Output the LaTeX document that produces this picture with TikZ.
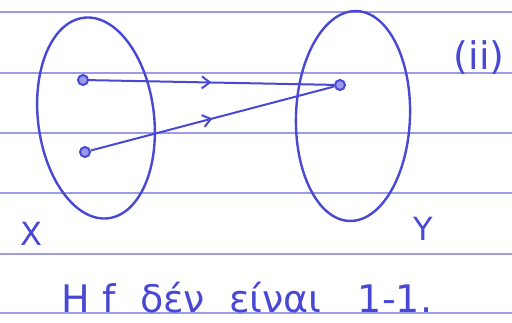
\documentclass[tikz,border=0pt]{standalone}
\usepackage{fontspec}
\setmainfont{DejaVu Sans}
\usetikzlibrary{arrows.meta, positioning, shapes.geometric, decorations.markings}
\definecolor{colInk}{RGB}{72,72,212}
\definecolor{colRule}{RGB}{155,155,232}

\begin{document}
\begin{tikzpicture}[
  x=1pt, y=-1pt,
  rule/.style={colRule, line width=1.2pt},
  set/.style={ellipse, draw=colInk, line width=2.4pt, inner sep=0pt},
  elem/.style={circle, draw=colInk, fill=colInk!55, line width=2pt,
               inner sep=0pt, minimum size=10pt},
  maparr/.style={colInk, line width=2pt, postaction={decorate},
                 decoration={markings, mark=at position 0.5 with
                   {\arrow{Straight Barb[length=8pt, width=12pt, line width=2pt]}}}},
  hand/.style={text=colInk, inner sep=0pt},
]
\useasboundingbox (0,0) rectangle (512,322);

% ruled paper
\foreach \ry in {12,73,133,193,254,313}
  \draw[rule] (0,\ry) -- (512,\ry);

% sets
\node[set, minimum width=116pt, minimum height=202pt, rotate=7] (setX) at (96,118) {};
\node[set, minimum width=114pt, minimum height=210pt, rotate=-2] (setY) at (353,116) {};

% elements
\node[elem] (x1) at (83,80) {};
\node[elem] (x2) at (85,152) {};
\node[elem] (y1) at (340,85) {};

% mapping
\draw[maparr] (x1) -- (y1);
\draw[maparr] (x2) -- (y1);

% labels
\node[hand, font=\fontsize{32}{32}\selectfont] (labX) at (31,234) {X};
\node[hand, font=\fontsize{32}{32}\selectfont] (labY) at (423,229) {Y};
\node[hand, font=\fontsize{38}{38}\selectfont] (case) at (479,58) {(ii)};
\node[hand, font=\fontsize{38}{38}\selectfont, anchor=base] (note) at (247,312)
  {Η f \ δέν \ είναι \ \ 1-1.};

\end{tikzpicture}
\end{document}
